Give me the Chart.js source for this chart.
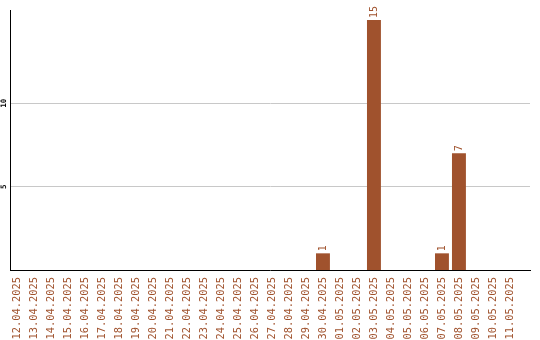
<!DOCTYPE html>
<html>
<head>
<meta charset="utf-8">
<script src="https://cdn.jsdelivr.net/npm/chart.js@4/dist/chart.umd.min.js"></script>
<style>
  html, body { margin: 0; padding: 0; background: #fff; }
  #wrap { width: 540px; height: 340px; }
</style>
</head>
<body>
<div id="wrap"><canvas id="myChart" width="540" height="340"></canvas></div>
<script>
const days = [
  "12.04.2025", "13.04.2025", "14.04.2025", "15.04.2025", "16.04.2025",
  "17.04.2025", "18.04.2025", "19.04.2025", "20.04.2025", "21.04.2025",
  "22.04.2025", "23.04.2025", "24.04.2025", "25.04.2025", "26.04.2025",
  "27.04.2025", "28.04.2025", "29.04.2025", "30.04.2025", "01.05.2025",
  "02.05.2025", "03.05.2025", "04.05.2025", "05.05.2025", "06.05.2025",
  "07.05.2025", "08.05.2025", "09.05.2025", "10.05.2025", "11.05.2025"
];
const counts = [
  0, 0, 0, 0, 0, 0, 0, 0, 0, 0,
  0, 0, 0, 0, 0, 0, 0, 0, 1, 0,
  0, 15, 0, 0, 0, 1, 7, 0, 0, 0
];
const yTicks = [5, 10];

const brown = "#a0522d";
const mono = "'DejaVu Sans Mono', monospace";

// etiquetas de valor encima de cada barra + ticks del eje y girados
const extras = {
  id: "extras",
  afterDatasetsDraw(chart) {
    const ctx = chart.ctx;
    const bars = chart.getDatasetMeta(0).data;
    ctx.save();
    ctx.fillStyle = brown;
    ctx.font = "10px " + mono;
    ctx.textAlign = "left";
    ctx.textBaseline = "middle";
    bars.forEach((bar, i) => {
      if (!counts[i]) return;
      ctx.save();
      ctx.translate(bar.x, bar.y - 2);
      ctx.rotate(-Math.PI / 2);
      ctx.fillText(String(counts[i]), 0, 0);
      ctx.restore();
    });
    const y = chart.scales.y;
    ctx.fillStyle = "#000";
    ctx.font = "bold 7.5px " + mono;
    ctx.textAlign = "center";
    yTicks.forEach((v) => {
      ctx.save();
      ctx.translate(4, y.getPixelForValue(v));
      ctx.rotate(-Math.PI / 2);
      ctx.fillText(String(v), 0, 0);
      ctx.restore();
    });
    ctx.restore();
  }
};

new Chart(document.getElementById("myChart"), {
  type: "bar",
  data: {
    datasets: [{
      data: counts.map((v, i) => ({ x: i, y: v })),
      backgroundColor: brown,
      borderWidth: 0,
      barPercentage: 0.82,
      categoryPercentage: 1
    }]
  },
  options: {
    responsive: false,
    animation: false,
    layout: { padding: { top: 10, right: 10, left: 0, bottom: 0 } },
    plugins: { legend: { display: false }, tooltip: { enabled: false } },
    scales: {
      x: {
        type: "linear",
        offset: false, // si no, chart.js desplaza el rango
        min: -0.41,
        max: 30.18,
        afterBuildTicks: (s) => { s.ticks = days.map((_, i) => ({ value: i })); },
        afterFit: (s) => { s.height = 70; },
        grid: { display: false, drawTicks: false },
        border: { color: "#000", width: 1 },
        ticks: {
          autoSkip: false,
          minRotation: 90,
          maxRotation: 90,
          padding: 7,
          color: brown,
          font: { family: mono, size: 10.4 },
          callback: (v) => days[v]
        }
      },
      y: {
        min: 0,
        max: 15.6,
        afterBuildTicks: (s) => { s.ticks = yTicks.map((v) => ({ value: v })); },
        afterFit: (s) => { s.width = 10; },
        grid: { color: "#c8c8c8", drawTicks: false },
        border: { color: "#000", width: 1 },
        ticks: { display: false }
      }
    }
  },
  plugins: [extras]
});
</script>
</body>
</html>
